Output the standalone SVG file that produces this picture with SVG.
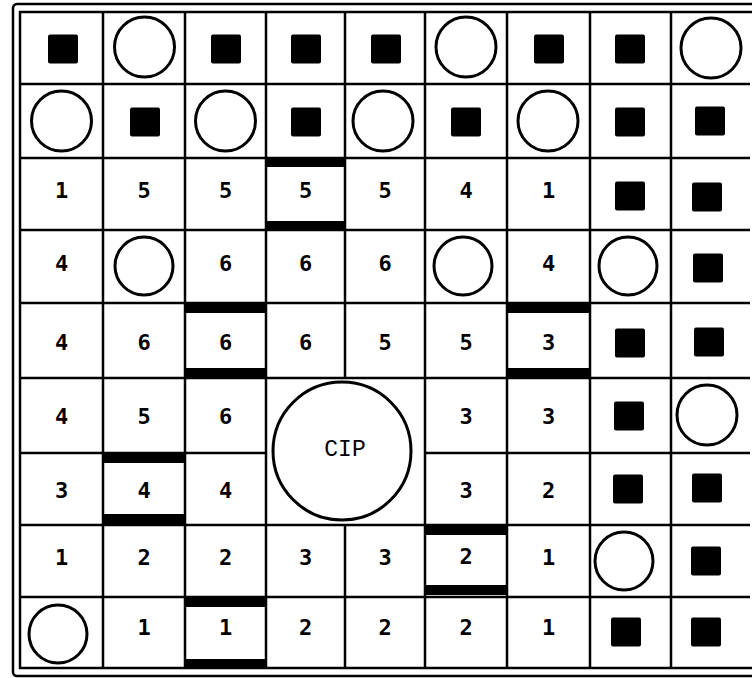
<svg xmlns="http://www.w3.org/2000/svg" width="752" height="678" viewBox="0 0 752 678">
<style>
.bg{fill:#fff}
.frame{fill:none;stroke:#000;stroke-width:2.5}
.gl{stroke:#000;stroke-width:2.5;fill:none}
.c{fill:#fff;stroke:#000;stroke-width:3}
.s{fill:#000}
.n{font-family:"DejaVu Sans Mono","Liberation Mono",monospace;font-weight:bold;font-size:22px;text-anchor:middle;dominant-baseline:central;fill:#000}
.bar{fill:#000}
.cip{font-family:"Liberation Mono","Courier New",monospace;font-size:23px;text-anchor:middle;dominant-baseline:central;fill:#000}
</style>
<defs>
<rect id="sq" x="-15" y="-14.5" width="30" height="29" rx="2"/>
</defs>
<rect class="bg" x="0" y="0" width="752" height="678"/>
<rect class="frame" x="13" y="4" width="750" height="672" rx="4"/>
<g id="grid">
<rect class="gl" x="20" y="12" width="740" height="656"/>
<path class="gl" d="M103 12V668M185 12V668M266 12V668M425 12V668M507 12V668M590 12V668M671 12V668M345 12V378M345 525V668M20 84H750M20 158H750M20 230H750M20 303H750M20 378H750M20 525H750M20 597H750M20 453H266M425 453H750"/>
</g>
<g id="bars">
<rect class="bar" x="266" y="158" width="79" height="9"/><rect class="bar" x="266" y="221" width="79" height="9"/>
<rect class="bar" x="185" y="303" width="81" height="10"/><rect class="bar" x="185" y="368" width="81" height="10"/>
<rect class="bar" x="507" y="303" width="83" height="10"/><rect class="bar" x="507" y="368" width="83" height="10"/>
<rect class="bar" x="103" y="453" width="82" height="10"/><rect class="bar" x="103" y="514" width="82" height="10"/>
<rect class="bar" x="425" y="525" width="82" height="10"/><rect class="bar" x="425" y="585" width="82" height="10"/>
<rect class="bar" x="185" y="597" width="81" height="10"/><rect class="bar" x="185" y="659" width="81" height="10"/>
</g>
<g id="row0">
<use href="#sq" class="s" x="63" y="49"/>
<circle class="c" cx="144.5" cy="47" r="30"/>
<use href="#sq" class="s" x="226" y="49"/>
<use href="#sq" class="s" x="306" y="49"/>
<use href="#sq" class="s" x="386" y="49"/>
<circle class="c" cx="466" cy="47" r="30"/>
<use href="#sq" class="s" x="549" y="49"/>
<use href="#sq" class="s" x="630" y="49"/>
<circle class="c" cx="711" cy="48" r="30"/>
</g>
<g id="row1">
<circle class="c" cx="61.5" cy="121" r="30"/>
<use href="#sq" class="s" x="145" y="122"/>
<circle class="c" cx="225.5" cy="121" r="30"/>
<use href="#sq" class="s" x="306" y="122"/>
<circle class="c" cx="383" cy="121" r="30"/>
<use href="#sq" class="s" x="466" y="122"/>
<circle class="c" cx="548" cy="121" r="30"/>
<use href="#sq" class="s" x="630" y="122"/>
<use href="#sq" class="s" x="710" y="121"/>
</g>
<g id="row2">
<text class="n" x="61.5" y="190">1</text>
<text class="n" x="144" y="190">5</text>
<text class="n" x="225.5" y="190">5</text>
<text class="n" x="305.5" y="190">5</text>
<text class="n" x="385" y="190">5</text>
<text class="n" x="466" y="190">4</text>
<text class="n" x="548.5" y="190">1</text>
<use href="#sq" class="s" x="630" y="196"/>
<use href="#sq" class="s" x="707" y="197"/>
</g>
<g id="row3">
<text class="n" x="61.5" y="263">4</text>
<circle class="c" cx="144" cy="266" r="29"/>
<text class="n" x="225.5" y="263">6</text>
<text class="n" x="305.5" y="263">6</text>
<text class="n" x="385" y="263">6</text>
<circle class="c" cx="463" cy="266" r="29"/>
<text class="n" x="548.5" y="263">4</text>
<circle class="c" cx="628" cy="266" r="29"/>
<use href="#sq" class="s" x="708" y="268"/>
</g>
<g id="row4">
<text class="n" x="61.5" y="342">4</text>
<text class="n" x="144" y="342">6</text>
<text class="n" x="225.5" y="342">6</text>
<text class="n" x="305.5" y="342">6</text>
<text class="n" x="385" y="342">5</text>
<text class="n" x="466" y="342">5</text>
<text class="n" x="548.5" y="342">3</text>
<use href="#sq" class="s" x="630" y="343"/>
<use href="#sq" class="s" x="709" y="342"/>
</g>
<g id="row5">
<text class="n" x="61.5" y="416">4</text>
<text class="n" x="144" y="416">5</text>
<text class="n" x="225.5" y="416">6</text>
<text class="n" x="466" y="416">3</text>
<text class="n" x="548.5" y="416">3</text>
<use href="#sq" class="s" x="629" y="416"/>
<circle class="c" cx="707" cy="415" r="30"/>
</g>
<g id="cip">
<circle class="c" cx="342" cy="451" r="69"/>
<text class="cip" x="345" y="450">CIP</text>
</g>
<g id="row6">
<text class="n" x="61.5" y="490">3</text>
<text class="n" x="144" y="490">4</text>
<text class="n" x="225.5" y="490">4</text>
<text class="n" x="466" y="490">3</text>
<text class="n" x="548.5" y="490">2</text>
<use href="#sq" class="s" x="628" y="489"/>
<use href="#sq" class="s" x="707" y="488"/>
</g>
<g id="row7">
<text class="n" x="61.5" y="557">1</text>
<text class="n" x="144" y="557">2</text>
<text class="n" x="225.5" y="557">2</text>
<text class="n" x="305.5" y="557">3</text>
<text class="n" x="385" y="557">3</text>
<text class="n" x="466" y="556">2</text>
<text class="n" x="548.5" y="557">1</text>
<circle class="c" cx="624" cy="561" r="29"/>
<use href="#sq" class="s" x="706" y="561"/>
</g>
<g id="row8">
<circle class="c" cx="58" cy="634" r="29"/>
<text class="n" x="144" y="627">1</text>
<text class="n" x="225.5" y="627">1</text>
<text class="n" x="305.5" y="627">2</text>
<text class="n" x="385" y="627">2</text>
<text class="n" x="466" y="627">2</text>
<text class="n" x="548.5" y="627">1</text>
<use href="#sq" class="s" x="626" y="632"/>
<use href="#sq" class="s" x="706" y="632"/>
</g>
</svg>
